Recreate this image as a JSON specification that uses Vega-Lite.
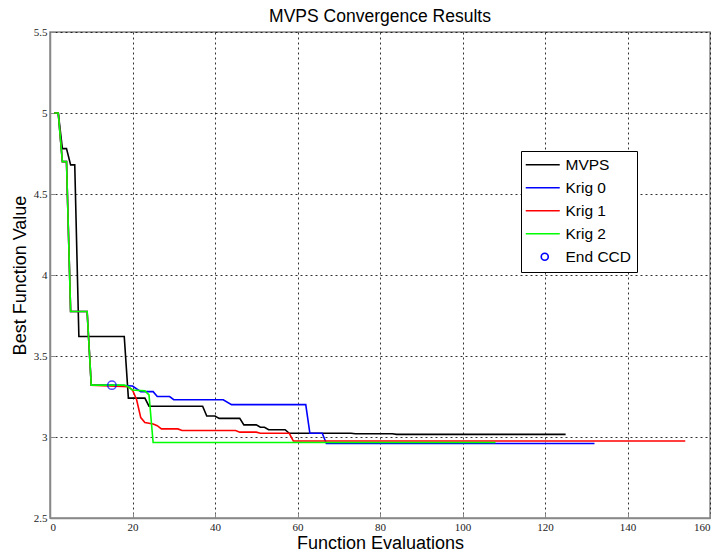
{
  "$schema": "https://vega.github.io/schema/vega-lite/v6.json",
  "width": 660,
  "height": 486,
  "autosize": "none",
  "padding": {"left": 50, "top": 32, "right": 3, "bottom": 38},
  "background": "white",
  "title": {"text": "MVPS Convergence Results", "font": "Liberation Sans", "fontSize": 17.5, "fontWeight": "normal", "color": "#000", "offset": 1},
  "config": {
    "view": {"stroke": "#888", "strokeWidth": 1.5},
    "axis": {
      "labelFont": "Liberation Sans Narrow",
      "labelFontSize": 11,
      "labelColor": "#222",
      "titleFont": "Liberation Sans",
      "titleFontSize": 18,
      "titleFontWeight": "normal",
      "titleColor": "#000",
      "domainColor": "#888",
      "domainWidth": 1.5,
      "ticks": true,
      "tickColor": "#888",
      "tickSize": -5,
      "grid": true,
      "gridColor": "#000",
      "gridDash": [2, 3],
      "gridOpacity": 0.8,
      "gridWidth": 1
    }
  },
  "datasets": {
    "lines": [
      {"s": "MVPS", "x": 1, "y": 5.0},
      {"s": "MVPS", "x": 2, "y": 5.0},
      {"s": "MVPS", "x": 3, "y": 4.78},
      {"s": "MVPS", "x": 4, "y": 4.78},
      {"s": "MVPS", "x": 5, "y": 4.68},
      {"s": "MVPS", "x": 6, "y": 4.68},
      {"s": "MVPS", "x": 7, "y": 3.62},
      {"s": "MVPS", "x": 18, "y": 3.62},
      {"s": "MVPS", "x": 19, "y": 3.24},
      {"s": "MVPS", "x": 23, "y": 3.24},
      {"s": "MVPS", "x": 24, "y": 3.19},
      {"s": "MVPS", "x": 37, "y": 3.19},
      {"s": "MVPS", "x": 38, "y": 3.13},
      {"s": "MVPS", "x": 40, "y": 3.13},
      {"s": "MVPS", "x": 41, "y": 3.115},
      {"s": "MVPS", "x": 46, "y": 3.115},
      {"s": "MVPS", "x": 47, "y": 3.075},
      {"s": "MVPS", "x": 50, "y": 3.075},
      {"s": "MVPS", "x": 51, "y": 3.06},
      {"s": "MVPS", "x": 52, "y": 3.06},
      {"s": "MVPS", "x": 53, "y": 3.045},
      {"s": "MVPS", "x": 57, "y": 3.045},
      {"s": "MVPS", "x": 58, "y": 3.023},
      {"s": "MVPS", "x": 73, "y": 3.023},
      {"s": "MVPS", "x": 74, "y": 3.02},
      {"s": "MVPS", "x": 83, "y": 3.02},
      {"s": "MVPS", "x": 84, "y": 3.016},
      {"s": "MVPS", "x": 125, "y": 3.016},
      {"s": "Krig 0", "x": 1, "y": 5.0},
      {"s": "Krig 0", "x": 2, "y": 5.0},
      {"s": "Krig 0", "x": 3, "y": 4.7},
      {"s": "Krig 0", "x": 4, "y": 4.7},
      {"s": "Krig 0", "x": 5, "y": 3.775},
      {"s": "Krig 0", "x": 9, "y": 3.775},
      {"s": "Krig 0", "x": 10, "y": 3.32},
      {"s": "Krig 0", "x": 15, "y": 3.32},
      {"s": "Krig 0", "x": 20, "y": 3.315},
      {"s": "Krig 0", "x": 22, "y": 3.28},
      {"s": "Krig 0", "x": 25, "y": 3.28},
      {"s": "Krig 0", "x": 26, "y": 3.25},
      {"s": "Krig 0", "x": 29, "y": 3.25},
      {"s": "Krig 0", "x": 30, "y": 3.23},
      {"s": "Krig 0", "x": 42, "y": 3.23},
      {"s": "Krig 0", "x": 44, "y": 3.2},
      {"s": "Krig 0", "x": 62, "y": 3.2},
      {"s": "Krig 0", "x": 63, "y": 3.023},
      {"s": "Krig 0", "x": 66, "y": 3.023},
      {"s": "Krig 0", "x": 67, "y": 2.96},
      {"s": "Krig 0", "x": 132, "y": 2.96},
      {"s": "Krig 1", "x": 1, "y": 5.0},
      {"s": "Krig 1", "x": 2, "y": 5.0},
      {"s": "Krig 1", "x": 3, "y": 4.7},
      {"s": "Krig 1", "x": 4, "y": 4.7},
      {"s": "Krig 1", "x": 5, "y": 3.775},
      {"s": "Krig 1", "x": 9, "y": 3.775},
      {"s": "Krig 1", "x": 10, "y": 3.32},
      {"s": "Krig 1", "x": 19, "y": 3.31},
      {"s": "Krig 1", "x": 20, "y": 3.29},
      {"s": "Krig 1", "x": 21, "y": 3.23},
      {"s": "Krig 1", "x": 22, "y": 3.12},
      {"s": "Krig 1", "x": 23, "y": 3.09},
      {"s": "Krig 1", "x": 24, "y": 3.085},
      {"s": "Krig 1", "x": 25, "y": 3.08},
      {"s": "Krig 1", "x": 26, "y": 3.07},
      {"s": "Krig 1", "x": 27, "y": 3.05},
      {"s": "Krig 1", "x": 31, "y": 3.05},
      {"s": "Krig 1", "x": 32, "y": 3.04},
      {"s": "Krig 1", "x": 45, "y": 3.04},
      {"s": "Krig 1", "x": 46, "y": 3.03},
      {"s": "Krig 1", "x": 50, "y": 3.03},
      {"s": "Krig 1", "x": 51, "y": 3.023},
      {"s": "Krig 1", "x": 58, "y": 3.023},
      {"s": "Krig 1", "x": 59, "y": 2.975},
      {"s": "Krig 1", "x": 154, "y": 2.975},
      {"s": "Krig 2", "x": 1, "y": 5.0},
      {"s": "Krig 2", "x": 2, "y": 5.0},
      {"s": "Krig 2", "x": 3, "y": 4.7},
      {"s": "Krig 2", "x": 4, "y": 4.7},
      {"s": "Krig 2", "x": 5, "y": 3.775},
      {"s": "Krig 2", "x": 9, "y": 3.775},
      {"s": "Krig 2", "x": 10, "y": 3.32},
      {"s": "Krig 2", "x": 18, "y": 3.32},
      {"s": "Krig 2", "x": 19, "y": 3.31},
      {"s": "Krig 2", "x": 20, "y": 3.29},
      {"s": "Krig 2", "x": 23, "y": 3.285},
      {"s": "Krig 2", "x": 24, "y": 3.26},
      {"s": "Krig 2", "x": 25, "y": 2.966},
      {"s": "Krig 2", "x": 108, "y": 2.966}
    ],
    "ccd": [
      {"s": "End CCD", "x": 15, "y": 3.32}
    ]
  },
  "layer": [
    {
      "data": {"name": "lines"},
      "mark": {"type": "line", "strokeWidth": 1.6, "interpolate": "linear"},
      "encoding": {
        "x": {"field": "x", "type": "quantitative", "scale": {"domain": [0, 160], "nice": false}, "axis": {"values": [0, 20, 40, 60, 80, 100, 120, 140, 160], "title": "Function Evaluations", "labelPadding": 8, "titlePadding": 2}},
        "y": {"field": "y", "type": "quantitative", "scale": {"domain": [2.5, 5.5], "nice": false, "zero": false}, "axis": {"values": [2.5, 3, 3.5, 4, 4.5, 5, 5.5], "format": "~g", "title": "Best Function Value", "labelPadding": 8, "titlePadding": 4}},
        "detail": {"field": "s"},
        "color": {
          "field": "s",
          "type": "nominal",
          "sort": null,
          "scale": {"domain": ["MVPS", "Krig 0", "Krig 1", "Krig 2", "End CCD"], "range": ["#000000", "#0000ff", "#ff0000", "#00ff00", "#0000ff"]},
          "legend": {
            "orient": "none",
            "legendX": 471,
            "legendY": 119,
            "title": null,
            "strokeColor": "#000",
            "fillColor": "white",
            "padding": 6,
            "labelFont": "Liberation Sans",
            "labelFontSize": 15.5,
            "labelColor": "#000",
            "labelOffset": 23,
            "rowPadding": 6,
            "symbolType": "stroke",
            "symbolSize": 100,
            "symbolStrokeWidth": 1.6,
            "encode": {
              "symbols": {
                "update": {
                  "shape": {"signal": "datum.value === 'End CCD' ? 'M2.7,0A0.7,0.7 0 1,1 1.3,0A0.7,0.7 0 1,1 2.7,0Z' : 'M-1.8,0H5'"},
                  "size": {"value": 100},
                  "fill": {"value": "transparent"},
                  "strokeWidth": {"value": 1.6}
                }
              }
            }
          }
        }
      }
    },
    {
      "data": {"name": "ccd"},
      "mark": {"type": "point", "shape": "circle", "filled": false, "size": 70, "strokeWidth": 1.5},
      "encoding": {
        "x": {"field": "x", "type": "quantitative"},
        "y": {"field": "y", "type": "quantitative"},
        "color": {"field": "s", "type": "nominal"}
      }
    }
  ]
}
